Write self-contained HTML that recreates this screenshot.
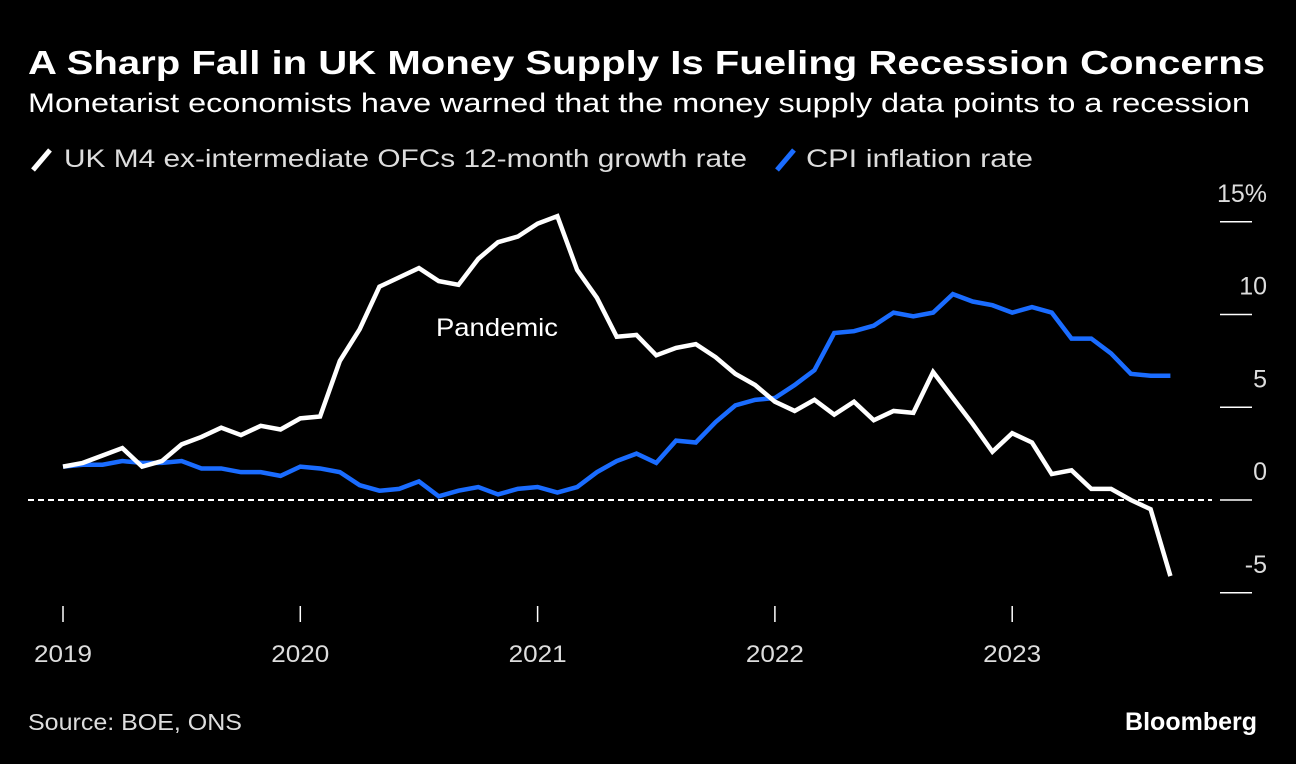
<!DOCTYPE html>
<html><head><meta charset="utf-8"><style>
body{margin:0;background:#000;width:1296px;height:764px;overflow:hidden;font-family:"Liberation Sans",sans-serif;color:#fff}
svg{position:absolute;left:0;top:0}
</style></head><body>
<svg width="1296" height="764">
<text x="28" y="74" font-size="33" font-weight="bold" fill="#fff" textLength="1237" lengthAdjust="spacingAndGlyphs">A Sharp Fall in UK Money Supply Is Fueling Recession Concerns</text>
<text x="28" y="112" font-size="27" fill="#fff" textLength="1222" lengthAdjust="spacingAndGlyphs">Monetarist economists have warned that the money supply data points to a recession</text>
<g>
<line x1="33" y1="170" x2="50" y2="150" stroke="#fff" stroke-width="5"/>
<text x="64" y="167" font-size="25" fill="#ddd" textLength="683" lengthAdjust="spacingAndGlyphs">UK M4 ex-intermediate OFCs 12-month growth rate</text>
<line x1="777" y1="170" x2="794" y2="150" stroke="#1a6cff" stroke-width="5"/>
<text x="806" y="167" font-size="25" fill="#ddd" textLength="227" lengthAdjust="spacingAndGlyphs">CPI inflation rate</text>
</g>
<g id="axes"></g>
<g id="series"></g>
<text x="436" y="336" font-size="25" fill="#fff" textLength="122" lengthAdjust="spacingAndGlyphs">Pandemic</text>
<text x="28" y="730" font-size="23" fill="#ddd" textLength="214" lengthAdjust="spacingAndGlyphs">Source: BOE, ONS</text>
<text x="1257" y="730" font-size="25" font-weight="bold" fill="#fff" text-anchor="end">Bloomberg</text>
</svg>
<script>
const m4=[1.8,2.0,2.4,2.8,1.8,2.1,3.0,3.4,3.9,3.5,4.0,3.8,4.4,4.5,7.5,9.2,11.5,12.0,12.5,11.8,11.6,13.0,13.9,14.2,14.9,15.3,12.4,10.9,8.8,8.9,7.8,8.2,8.4,7.7,6.8,6.2,5.3,4.8,5.4,4.6,5.3,4.3,4.8,4.7,6.9,5.5,4.1,2.6,3.6,3.1,1.4,1.6,0.6,0.6,0.0,-0.5,-4.1];
const cpi=[1.8,1.9,1.9,2.1,2.0,2.0,2.1,1.7,1.7,1.5,1.5,1.3,1.8,1.7,1.5,0.8,0.5,0.6,1.0,0.2,0.5,0.7,0.3,0.6,0.7,0.4,0.7,1.5,2.1,2.5,2.0,3.2,3.1,4.2,5.1,5.4,5.5,6.2,7.0,9.0,9.1,9.4,10.1,9.9,10.1,11.1,10.7,10.5,10.1,10.4,10.1,8.7,8.7,7.9,6.8,6.7,6.7];
const yTicks=[15,10,5,0,-5];
const yTickLabels=["15%","10","5","0","-5"];
const years=[2019,2020,2021,2022,2023];
const NS="http://www.w3.org/2000/svg";
const x=i=>63+i*(237.3/12);
const y=v=>500-v*18.55;
const axes=document.getElementById('axes'),series=document.getElementById('series');
function mk(t,a,p){const e=document.createElementNS(NS,t);for(const k in a)e.setAttribute(k,a[k]);p.appendChild(e);return e;}
yTicks.forEach((v,i)=>{
 const l=mk('line',{x1:1220,x2:1252,y1:y(v),y2:y(v),stroke:'#fff','stroke-width':1.5},axes);
 
 
 const t=mk('text',{x:1267,y:y(v)-20,'font-size':25,fill:'#ddd','text-anchor':'end'},axes);
 t.textContent=yTickLabels[i];
 
 
});
years.forEach((yr,i)=>{
 const l=mk('line',{x1:x(i*12),x2:x(i*12),y1:606,y2:622,stroke:'#fff','stroke-width':1.5},axes);
 
 
 const t=mk('text',{x:x(i*12),y:662,'font-size':24,fill:'#ddd','text-anchor':'middle',textLength:58,lengthAdjust:'spacingAndGlyphs'},axes);
 t.textContent=yr;
 
 
});
const z=mk('line',{x1:28,x2:1212,y1:y(0),y2:y(0),stroke:'#fff','stroke-width':2,'stroke-dasharray':'6,4'},axes);


function line(d,c,n){const p=mk('polyline',{points:d.map((v,i)=>x(i)+','+y(v)).join(' '),fill:'none',stroke:c,'stroke-width':4.5,'stroke-linejoin':'miter'},series);
 
 }
line(cpi,'#1a6cff','cpi-line');
line(m4,'#fff','m4-line');
</script>
</body></html>
